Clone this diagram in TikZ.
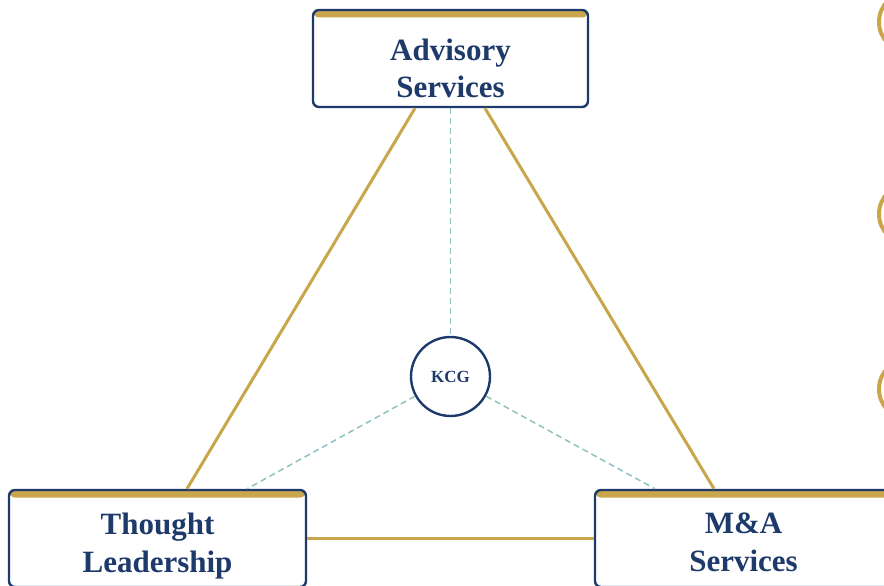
\documentclass[tikz,border=0pt]{standalone}
\usepackage{fontspec}
\setmainfont{Liberation Serif}
\definecolor{navy}{HTML}{1E3A6B}
\definecolor{gold}{HTML}{C9A64B}
\definecolor{teal2}{HTML}{8FC1BE}
\tikzset{
  svcbox/.style={draw=navy, line width=2.4pt, rounded corners=6pt, fill=white,
    minimum width=#1, minimum height=97pt, inner sep=0pt,
    path picture={\fill[gold] (path picture bounding box.north west) rectangle ([yshift=-7.5pt]path picture bounding box.north east);}},
  svctext/.style={anchor=base, inner sep=0pt, text=navy, font=\fontsize{31}{37}\selectfont\bfseries},
  goldline/.style={draw=gold, line width=3pt},
  tealline/.style={draw=teal2, line width=1.5pt, dash pattern=on 6pt off 4pt},
  hub/.style={circle, draw=navy, line width=2.4pt, fill=white, minimum size=79pt, inner sep=0pt,
    text=navy, font=\fontsize{17}{20}\selectfont\bfseries},
  ring/.style={draw=gold, line width=4pt}
}
\begin{document}
\begin{tikzpicture}[x=1pt,y=-1pt]
\useasboundingbox (0,0) rectangle (884,586);
\clip (0,0) rectangle (884,586);
\node[svcbox=275pt] (adv) at (450.5,58.5) {};
\node[svcbox=297pt] (tl) at (157.5,538.5) {};
\node[svcbox=297pt] (ma) at (743.5,538.5) {};
\node[svctext] (adv1) at (450.5,61) {Advisory};
\node[svctext] (adv2) at (450.5,97.5) {Services};
\node[svctext] (tl1) at (157.5,534) {Thought};
\node[svctext] (tl2) at (157.5,572) {Leadership};
\node[svctext] (ma1) at (743.5,533.5) {M\&A};
\node[svctext] (ma2) at (743.5,571.5) {Services};
\node[hub] (kcg) at (450.5,376.5) {KCG};
\draw[tealline] (adv.south) -- (kcg.north);
\draw[tealline] (kcg.209) -- ([xshift=89.5pt]tl.north);
\draw[tealline] (kcg.331) -- ([xshift=-88.5pt]ma.north);
\draw[goldline] ([xshift=-35.5pt]adv.south) -- ([xshift=29.5pt]tl.north);
\draw[goldline] ([xshift=34.5pt]adv.south) -- ([xshift=-29.5pt]ma.north);
\draw[goldline] (tl.east) -- (ma.west);
\draw[ring] (909,22) circle (30);
\draw[ring] (909,214) circle (30);
\draw[ring] (909,389) circle (30);
\end{tikzpicture}
\end{document}
